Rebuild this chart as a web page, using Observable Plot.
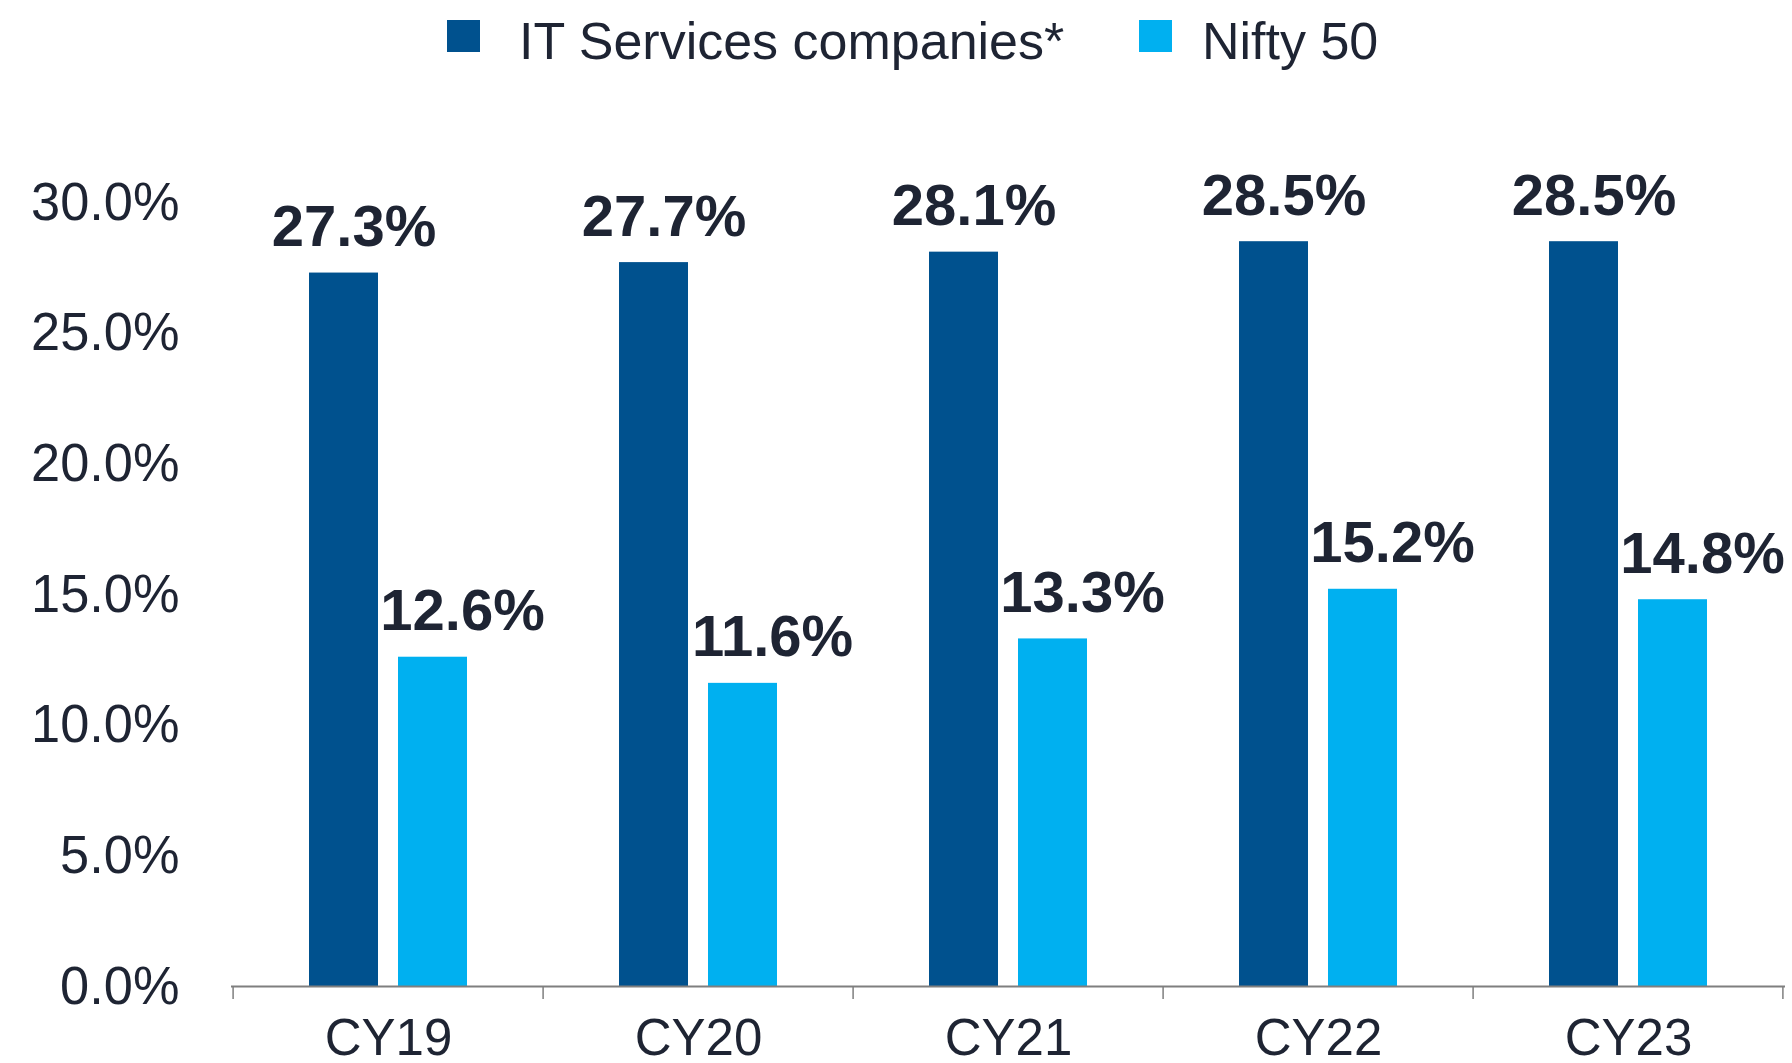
<!DOCTYPE html>
<html>
<head>
<meta charset="utf-8">
<script src="https://cdn.jsdelivr.net/npm/d3@7"></script>
<script src="https://cdn.jsdelivr.net/npm/@observablehq/plot@0.6"></script>
<style>
  html, body { margin: 0; padding: 0; background: #fff; }
  body { width: 1792px; height: 1063px; overflow: hidden; font-family: "Liberation Sans", Arial, sans-serif; color: #1e2433; }
  #legend { position: relative; height: 80px; width: 1792px; }
  #legend .sw { position: absolute; top: 20px; width: 33px; height: 32px; }
  #legend .lb { position: absolute; top: 11px; font-size: 52px; line-height: 60px; white-space: nowrap; }
</style>
</head>
<body>
<div id="legend"></div>
<div id="chart"></div>
<script>
const categories = ["CY19", "CY20", "CY21", "CY22", "CY23"];
const itServices = [27.3, 27.7, 28.1, 28.5, 28.5];
const nifty50 = [12.6, 11.6, 13.3, 15.2, 14.8];
const seriesNames = ["IT Services companies*", "Nifty 50"];
const seriesColors = ["#00518e", "#00b0f0"];
const yTicks = [0, 5, 10, 15, 20, 25, 30];

// Legend
const legend = document.getElementById("legend");
const legendPos = [{sw: 447, lb: 519}, {sw: 1139, lb: 1202}];
seriesNames.forEach((name, i) => {
  const sw = document.createElement("div");
  sw.className = "sw";
  sw.style.left = legendPos[i].sw + "px";
  sw.style.background = seriesColors[i];
  legend.appendChild(sw);
  const lb = document.createElement("div");
  lb.className = "lb";
  lb.style.left = legendPos[i].lb + "px";
  lb.textContent = name;
  legend.appendChild(lb);
});

const data = categories.map((c, i) => ({cat: c, it: itServices[i], nifty: nifty50[i]}));
const fmt = (v) => v.toFixed(1) + "%";

const W = 1792, H = 983;
const mL = 231, mR = 7, mT = 122, mB = 77;
const halfBand = (W - mL - mR) / categories.length / 2;
const textColor = "#1e2433";
const axisColor = "#7f7f7f";

const plot = Plot.plot({
  width: W,
  height: H,
  marginLeft: mL,
  marginRight: mR,
  marginTop: mT,
  marginBottom: mB,
  style: {fontFamily: "'Liberation Sans', Arial, sans-serif", color: textColor, background: "#fff"},
  x: {domain: categories, padding: 0},
  y: {domain: [0, 30]},
  marks: [
    Plot.barY(data, {x: "cat", y: "it", fill: seriesColors[0], insetLeft: 76, insetRight: 165}),
    Plot.barY(data, {x: "cat", y: "nifty", fill: seriesColors[1], insetLeft: 165, insetRight: 76}),
    Plot.ruleY([0], {stroke: axisColor, strokeWidth: 2}),
    Plot.ruleX(categories, {x: (d) => d, y1: 0, y2: 0, dx: -halfBand, insetBottom: -13, stroke: axisColor, strokeWidth: 1.5}),
    Plot.ruleX(categories.slice(-1), {x: (d) => d, y1: 0, y2: 0, dx: halfBand - 1, insetBottom: -13, stroke: axisColor, strokeWidth: 1.5}),
    Plot.text(data, {x: "cat", y: "it", text: (d) => fmt(d.it), dx: -34.5, dy: -27, lineAnchor: "bottom", fontSize: 58, fontWeight: "bold", fill: textColor}),
    Plot.text(data, {x: "cat", y: "nifty", text: (d) => fmt(d.nifty), dx: 74, dy: -27, lineAnchor: "bottom", fontSize: 58, fontWeight: "bold", fill: textColor}),
    Plot.axisX({tickSize: 0, tickPadding: 32, fontSize: 51, label: null, fill: textColor}),
    Plot.axisY({ticks: yTicks, tickSize: 0, tickPadding: 52, fontSize: 54, label: null, tickFormat: fmt, fill: textColor})
  ]
});
document.getElementById("chart").appendChild(plot);

// Y tick labels are horizontally condensed in the reference
const yLab = plot.querySelector('g[aria-label="y-axis tick label"]');
if (yLab) {
  yLab.querySelectorAll("text").forEach((t) => {
    const len = t.getComputedTextLength();
    if (len > 0) {
      t.setAttribute("textLength", (len * 0.97).toFixed(1));
      t.setAttribute("lengthAdjust", "spacingAndGlyphs");
    }
  });
}
</script>
</body>
</html>
